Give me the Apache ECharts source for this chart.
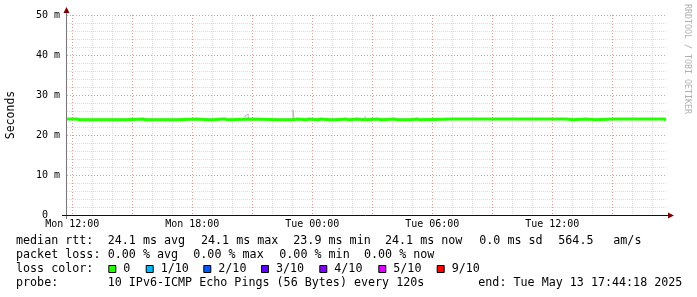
<!DOCTYPE html>
<html><head><meta charset="utf-8">
<script src="https://cdn.jsdelivr.net/npm/echarts@6/dist/echarts.min.js"></script>
<style>html,body{margin:0;padding:0;background:#fff}#c{width:697px;height:297px}</style>
</head><body><div id="c"></div><script>
// ---- data (time in hours since Mon 00:00) ----
const startHour = 11 + 44/60 + 18/3600;   // Mon 11:44:18
const endHour = startHour + 30;           // Tue 17:44:18
const rttTimes = [11.74, 12.22, 12.39, 12.47, 13.47, 13.54, 14.39, 14.47, 14.69, 15.54, 15.69, 15.79, 16.79, 16.89, 17.29, 18.24, 18.79, 18.89, 19.04, 19.49, 19.59, 19.64, 19.79, 21.04, 22.29, 22.39, 22.79, 22.89, 22.99, 23.29, 23.64, 23.84, 24.24, 24.44, 24.89, 24.99, 25.19, 25.69, 25.84, 26.24, 26.64, 27.29, 27.44, 28.09, 28.29, 28.39, 28.64, 28.69, 28.89, 29.24, 29.39, 31.04, 31.09, 31.89, 31.99, 33.24, 33.29, 33.99, 34.04, 35.84, 35.89, 36.69, 37.04, 37.69, 38.19, 38.99, 39.04, 41.59, 41.69];
const rttValues = [24.0, 23.8, 24.0, 23.8, 24.0, 23.8, 24.0, 23.8, 24.0, 23.8, 24.0, 23.8, 24.0, 23.8, 24.0, 23.8, 24.0, 23.8, 24.0, 23.8, 24.0, 23.8, 24.0, 23.8, 24.0, 23.8, 24.0, 23.8, 24.0, 23.8, 24.0, 23.8, 24.0, 23.8, 24.0, 23.8, 24.0, 23.8, 24.0, 23.8, 24.0, 23.8, 24.0, 23.8, 24.0, 23.8, 24.0, 23.8, 24.0, 23.8, 24.0, 23.8, 24.0, 23.8, 24.0, 23.8, 24.0, 23.8, 24.0, 23.8, 24.0, 23.8, 24.0, 23.8, 24.0, 23.8, 24.0, 23.8, 23.8];
const smokeTimes = [11.74, 20.64, 20.72, 20.80, 23.04, 23.09, 26.64, 26.69, 36.52, 36.57, 41.69];
const smokeValues = [24.0, 24.75, 25.25, 24.0, 26.25, 24.0, 24.6, 24.0, 24.5, 24.0, 24.0];

const labelHours = [12, 18, 24, 30, 36];
const xLabels = ['Mon 12:00', 'Mon 18:00', 'Tue 00:00', 'Tue 06:00', 'Tue 12:00'];
const majorHours = [12, 15, 18, 21, 24, 27, 30, 33, 36, 39];
const minorHours = [13, 14, 16, 17, 19, 20, 22, 23, 25, 26, 28, 29, 31, 32, 34, 35, 37, 38, 40, 41];
const yTicks = [0, 10, 20, 30, 40, 50];
const yLabels = ['0  ', '10 m', '20 m', '30 m', '40 m', '50 m'];

const legendLine1 = ['median rtt:', '24.1 ms avg', '24.1 ms max', '23.9 ms min', '24.1 ms now', '0.0 ms sd', '564.5', 'am/s'];
const legendLine2 = ['packet loss:', '0.00 % avg', '0.00 % max', '0.00 % min', '0.00 % now'];
const legendLine3Title = 'loss color:';
const lossLabels = ['0', '1/10', '2/10', '3/10', '4/10', '5/10', '9/10'];
const lossColors = ['#26ff00', '#00b8ff', '#0059ff', '#5e00ff', '#7e00ff', '#dd00ff', '#ff0000'];
const legendLine4 = ['probe:', '10 IPv6-ICMP Echo Pings (56 Bytes) every 120s', 'end: Tue May 13 17:44:18 2025'];
const yTitle = 'Seconds';
const watermark = 'RRDTOOL / TOBI OETIKER';

// ---- layout ----
const MONO = '"DejaVu Sans Mono", monospace';
const LFONT = '11.7px ' + MONO;
const line1X = [16, 107.7, 201, 293.3, 385, 479.3, 558.3, 613.3];
const line2X = [16, 107.7, 193.3, 279.3, 364];
const sqX = [108.3, 145.7, 203.3, 261, 319.3, 378.3, 436.7];
const line4X = [16, 107.7, 478.3];
const rowY = [241, 255, 269, 283];

const GRIDC = '#dcdcdc';
const MGRIDC = '#dc9c9c';
const GRIDDASH = [1, 1];
const MGRIDDASH = [1, 2];

function xAx(ticks, color, dash) {
  return {
    type: 'value', min: startHour, max: endHour, position: 'bottom', gridIndex: 0,
    axisLine: {show: false},
    axisTick: {show: false, customValues: ticks},
    axisLabel: {show: false},
    splitLine: {show: true, lineStyle: {color: color, width: 1, type: dash}}
  };
}

const graphic = [];
// axes lines & arrows
graphic.push({type: 'line', z: 100, shape: {x1: 66.5, y1: 219, x2: 66.5, y2: 11}, style: {stroke: '#777', lineWidth: 1}});
graphic.push({type: 'line', z: 100, shape: {x1: 62, y1: 215.5, x2: 669, y2: 215.5}, style: {stroke: '#111', lineWidth: 1}});
graphic.push({type: 'polygon', z: 101, shape: {points: [[63.5, 13], [66.5, 7], [69.5, 13]]}, style: {fill: '#7f0000'}});
graphic.push({type: 'polygon', z: 101, shape: {points: [[668, 212.5], [674, 215.5], [668, 218.5]]}, style: {fill: '#7f0000'}});
// titles
graphic.push({type: 'text', x: 11, y: 115, rotation: Math.PI / 2, style: {text: yTitle, align: 'center', verticalAlign: 'middle', font: '11.5px ' + MONO, fill: '#000'}});
graphic.push({type: 'text', x: 687.5, y: 59, rotation: -Math.PI / 2, style: {text: watermark, align: 'center', verticalAlign: 'middle', font: '8.3px ' + MONO, fill: '#b0b0b0'}});
// legend
function txt(x, y, s) {
  graphic.push({type: 'text', x: x, y: y, style: {text: s, align: 'left', verticalAlign: 'middle', font: LFONT, fill: '#000'}});
}
legendLine1.forEach((s, i) => txt(line1X[i], rowY[0], s));
legendLine2.forEach((s, i) => txt(line2X[i], rowY[1], s));
txt(16, rowY[2], legendLine3Title);
lossLabels.forEach((s, i) => {
  graphic.push({type: 'rect', shape: {x: sqX[i] + 0.5, y: rowY[2] - 3.5, width: 7, height: 7}, style: {fill: lossColors[i], stroke: '#000', lineWidth: 1}});
  txt(sqX[i] + 15, rowY[2], s);
});
legendLine4.forEach((s, i) => txt(line4X[i], rowY[3], s));

const chart = echarts.init(document.getElementById('c'), null, {renderer: 'canvas'});
chart.setOption({
  animation: false,
  backgroundColor: '#fff',
  grid: {left: 67, top: 15, width: 600, height: 200, containLabel: false},
  xAxis: [
    xAx(minorHours, GRIDC, GRIDDASH),
    xAx(majorHours, MGRIDC, MGRIDDASH),
    {
      type: 'value', min: startHour, max: endHour, position: 'bottom', gridIndex: 0,
      axisLine: {show: false},
      axisTick: {show: false, customValues: labelHours},
      splitLine: {show: false},
      axisLabel: {show: true, customValues: labelHours, margin: 4, color: '#000', fontFamily: MONO, fontSize: 10,
        formatter: v => { const i = labelHours.indexOf(Math.round(v)); return i >= 0 ? xLabels[i] : ''; }}
    }
  ],
  yAxis: {
    type: 'value', min: 0, max: 50, interval: 10,
    axisLine: {show: false}, axisTick: {show: false},
    axisLabel: {color: '#000', fontFamily: MONO, fontSize: 10, margin: 7,
      formatter: v => { const i = yTicks.indexOf(Math.round(v)); return i >= 0 ? yLabels[i] : ''; }},
    splitLine: {show: true, lineStyle: {color: MGRIDC, width: 1, type: MGRIDDASH}},
    minorTick: {show: false, splitNumber: 5},
    minorSplitLine: {show: true, lineStyle: {color: GRIDC, width: 1, type: GRIDDASH}}
  },
  series: [
    {type: 'line', name: 'smoke', xAxisIndex: 0, step: 'end', showSymbol: false, silent: true, z: 2,
      data: smokeTimes.map((t, i) => [t, smokeValues[i]]), lineStyle: {color: '#b8b8b8', width: 1}},
    {type: 'line', name: 'median', xAxisIndex: 0, step: 'end', showSymbol: false, silent: true, z: 3,
      data: rttTimes.map((t, i) => [t, rttValues[i]]), lineStyle: {color: '#26ff00', width: 3}}
  ],
  graphic: graphic
});
</script></body></html>
